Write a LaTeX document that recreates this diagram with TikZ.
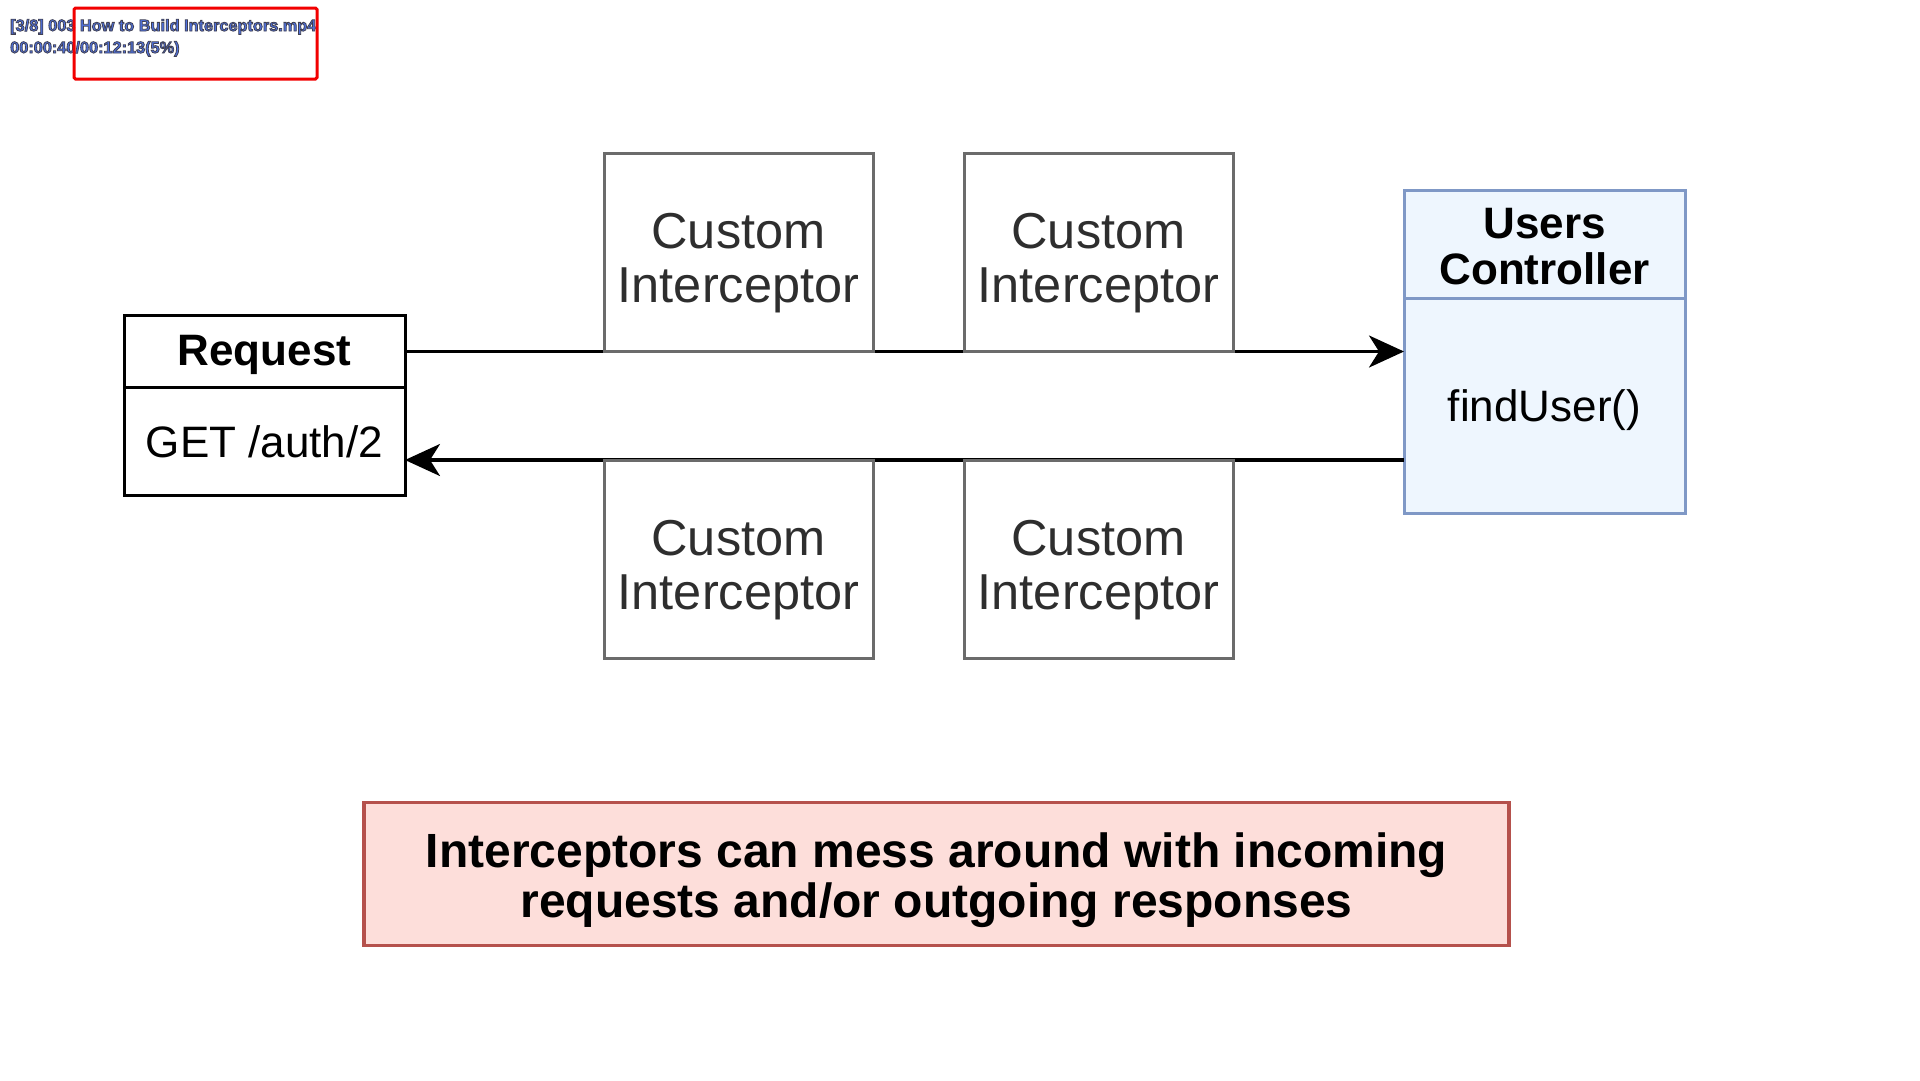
\documentclass[tikz,border=0pt]{standalone}
\usepackage{fontspec}
\setmainfont{Liberation Sans}
\usetikzlibrary{arrows.meta,calc}
\definecolor{icgray}{HTML}{6B6B6B}
\definecolor{txtgray}{HTML}{2E2E2E}
\definecolor{ctrlfill}{HTML}{EEF6FE}
\definecolor{ctrlborder}{HTML}{7F98C6}
\definecolor{notefill}{HTML}{FDDEDA}
\definecolor{noteborder}{HTML}{B5514C}
\definecolor{ovblue}{HTML}{4F72E0}
\definecolor{ovred}{HTML}{F20000}
\newcommand{\outlinetext}[1]{\special{pdf:code 2 Tr 0.25 0.25 0.32 RG 0.8 w}#1\special{pdf:code 0 Tr}}
\begin{document}
\begin{tikzpicture}[x=1pt,y=-1pt,
  reqbox/.style={draw=black, fill=white, line width=3pt, minimum width=281pt, inner sep=0pt, outer sep=0pt},
  ctrlbox/.style={draw=ctrlborder, fill=ctrlfill, line width=3pt, minimum width=281pt, inner sep=0pt, outer sep=0pt},
  icpt/.style={draw=icgray, fill=white, line width=3pt, minimum width=269pt, minimum height=198pt, inner sep=0pt, outer sep=0pt},
  ictext/.style={inner sep=0pt, text=txtgray, align=center, font=\fontsize{50.5}{54}\selectfont},
  lbl/.style={inner sep=0pt, align=center, font=\fontsize{44}{48}\selectfont},
  lblb/.style={inner sep=0pt, align=center, font=\fontsize{44}{46}\selectfont\bfseries},
  flow/.style={draw=black, line width=3.3pt, -{Stealth[length=35pt, width=32pt, inset=10pt]}},
  notebox/.style={draw=noteborder, fill=notefill, line width=3.5pt, minimum width=1145pt, minimum height=143pt, inner sep=0pt},
  notetext/.style={inner sep=0pt, align=center, font=\fontsize{48}{50}\selectfont\bfseries},
  ovtext/.style={anchor=base west, inner sep=0pt, text=ovblue, font=\fontsize{16.3}{18}\selectfont\bfseries}
]
\useasboundingbox[fill=white] (0,0) rectangle (1920,1080);

% Request
\node[reqbox, minimum height=72pt] (reqh) at (264.5,351.5) {};
\node[reqbox, minimum height=108pt, anchor=north] (reqb) at (reqh.south) {};
\node[lblb] (reqht) at ($(reqh)+(0,3.5)$) {Request};
\node[lbl] (reqbt) at (reqb) {GET /auth/2};

% Users Controller
\node[ctrlbox, minimum height=108pt] (ctrlh) at (1544.5,244) {};
\node[ctrlbox, minimum height=215pt, anchor=north] (ctrlb) at (ctrlh.south) {};
\node[lblb] (ctrlht) at ($(ctrlh)+(0,2.5)$) {Users\\Controller};
\node[lbl] (ctrlbt) at ($(ctrlb)+(0,5)$) {findUser()};

% connectors
\draw[flow] (reqh.east) -- (reqh.east -| ctrlb.west);
\coordinate (retlevel) at (1404,460);
\draw[flow] (retlevel) -- (reqb.east |- retlevel);

% interceptors
\node[icpt] (i1) at (738.5,252.5) {};
\node[icpt] (i2) at (1098.5,252.5) {};
\node[icpt] (i3) at (738.5,559) {};
\node[icpt] (i4) at (1098.5,559) {};
\node[ictext] (i1t) at ($(i1)+(0,11)$) {Custom\\Interceptor};
\node[ictext] (i2t) at ($(i2)+(0,11)$) {Custom\\Interceptor};
\node[ictext] (i3t) at ($(i3)+(0,11)$) {Custom\\Interceptor};
\node[ictext] (i4t) at ($(i4)+(0,11)$) {Custom\\Interceptor};

% note
\node[notebox] (note) at (936.5,874) {};
\node[notetext] (notet) at ($(note)+(0,6)$) {Interceptors can mess around with incoming\\requests and/or outgoing responses};

% overlay
\node[ovtext] (ov1) at (10,31) {\outlinetext{[3/8] 003 How to Build Interceptors.mp4}};
\node[ovtext] (ov2) at (10,53) {\outlinetext{00:00:40/00:12:13(5\%)}};
\draw[ovred, line width=3pt, rounded corners=1.5pt] (74,8) rectangle (317,79);
\end{tikzpicture}
\end{document}
